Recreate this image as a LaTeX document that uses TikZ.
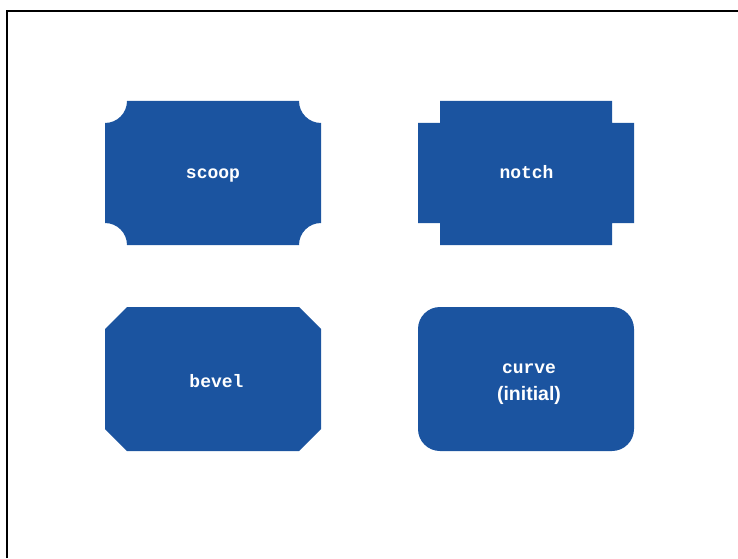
\documentclass[tikz,border=0pt]{standalone}
\usepackage{fontspec}
\setsansfont{Liberation Sans}
\setmonofont{Liberation Mono}
\definecolor{ShapeBlue}{HTML}{1B54A0}
\definecolor{FrameDark}{HTML}{000000}
\begin{document}
\begin{tikzpicture}[x=1pt,y=1pt,every node/.style={text=white,inner sep=0pt,anchor=base},shapelabel/.style={font=\ttfamily\bfseries\fontsize{18}{20}\selectfont},notelabel/.style={font=\sffamily\bfseries\fontsize{19.5}{22}\selectfont}]
\useasboundingbox (0,0) rectangle (738,558);
\draw[draw=FrameDark,line width=1.8pt] (7,0) |- (738,547);
% scoop
\fill[ShapeBlue] (127,457)--(299,457) arc[start angle=180,end angle=270,radius=22]--(321,335) arc[start angle=90,end angle=180,radius=22]--(127,313) arc[start angle=0,end angle=90,radius=22]--(105,435) arc[start angle=270,end angle=360,radius=22]--cycle;
\node[shapelabel] (scoop) at (213,379.7) {scoop};
% notch
\fill[ShapeBlue] (440,457)--(612,457)--(612,435)--(634,435)--(634,335)--(612,335)--(612,313)--(440,313)--(440,335)--(418,335)--(418,435)--(440,435)--cycle;
\node[shapelabel] (notch) at (526.5,379.7) {notch};
% bevel
\fill[ShapeBlue] (127,251)--(299,251)--(321,229)--(321,129)--(299,107)--(127,107)--(105,129)--(105,229)--cycle;
\node[shapelabel] (bevel) at (216.5,170.7) {bevel};
% curve
\fill[ShapeBlue,rounded corners=22pt] (418,107) rectangle (634,251);
\node[shapelabel] (curve) at (529,184.7) {curve};
\node[notelabel] (initial) at (529,158) {(initial)};
\end{tikzpicture}
\end{document}
